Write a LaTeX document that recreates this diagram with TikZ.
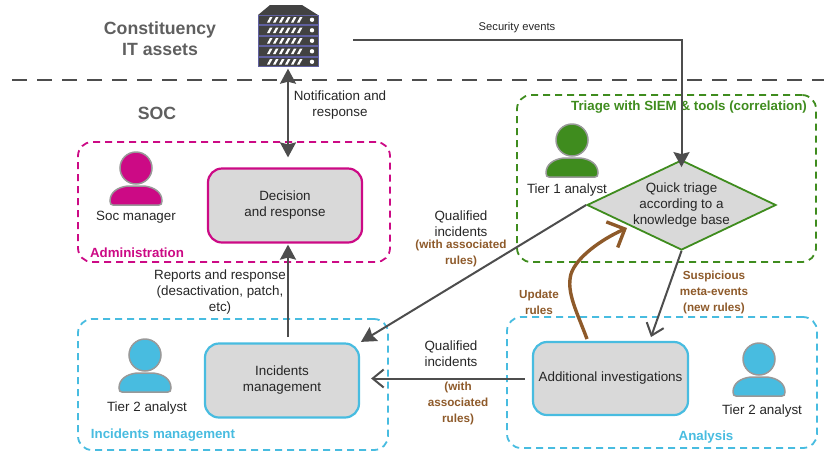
\documentclass[tikz,border=0pt]{standalone}
\usepackage{fontspec}
\setmainfont{Liberation Sans}
\usepackage{xcolor}
\usetikzlibrary{arrows.meta,shapes.geometric}
\definecolor{socpink}{HTML}{CC0A85}
\definecolor{socgreen}{HTML}{3F8C1E}
\definecolor{socblue}{HTML}{48BCE0}
\definecolor{socbrown}{HTML}{8E5A2A}
\definecolor{socgray}{HTML}{4D4D4D}
\definecolor{socfill}{HTML}{D9D9D9}
\tikzstyle{group} = [draw, dashed, dash pattern=on 7pt off 5pt, line width=1.8pt, rounded corners=14pt, inner sep=0pt]
\tikzstyle{task} = [draw, fill=socfill, line width=2.2pt, rounded corners=14pt, inner sep=0pt, align=center, text=black!85]
\tikzstyle{txt} = [align=center, inner sep=0pt, font=\fontsize{13.4}{16}\selectfont, text=black!85]
\tikzstyle{rule} = [align=center, inner sep=0pt, font=\fontsize{11.7}{16}\selectfont\bfseries, text=socbrown]
\tikzstyle{tag} = [inner sep=0pt, font=\fontsize{13.3}{16}\selectfont\bfseries]
\tikzstyle{title} = [align=center, inner sep=0pt, font=\fontsize{17.7}{21}\selectfont\bfseries, text=socgray!90!white]
\tikzstyle{flow} = [draw=socgray, line width=2pt]
\tikzstyle{head} = [-{Stealth[length=15pt,width=16pt,inset=2pt]}]
\tikzstyle{barb} = [-{Straight Barb[length=11pt,width=18pt]}]
\tikzset{pics/person/.style={code={
    \draw[fill=#1, draw=black!40, line width=1.5pt] (0,0) circle (16);
    \draw[fill=#1, draw=black!40, line width=1.5pt] (-26,33) .. controls (-26,24) and (-18,19) .. (-8,18) -- (8,18) .. controls (18,19) and (26,24) .. (26,33) .. controls (26,36) and (25,37) .. (23,37) -- (-23,37) .. controls (-25,37) and (-26,36) .. (-26,33) -- cycle;
}}}
\begin{document}
\begin{tikzpicture}[x=1pt,y=-1pt,>=stealth]
    \useasboundingbox (0,0) rectangle (824,451);
    \node[title] (assets) at (160,39) {Constituency\\IT assets};
    \node[title] (soc) at (157,113) {SOC};
    \draw[socgray, line width=2pt, dash pattern=on 15pt off 10pt] (12,80) -- (824,80);

    \node[group, draw=socpink, minimum width=312, minimum height=120] (admin) at (234,202) {};
    \node[group, draw=socgreen, minimum width=299, minimum height=167] (triagebox) at (666.5,178.5) {};
    \node[group, draw=socblue, minimum width=310, minimum height=131] (incbox) at (233,384.5) {};
    \node[group, draw=socblue, minimum width=310, minimum height=131] (anabox) at (662,382.5) {};

    \node[tag, text=socpink] (admintag) at (137,253) {Administration};
    \node[tag, text=socgreen] (triagetag) at (689,107) {Triage with SIEM \& tools (correlation)};
    \node[tag, text=socblue] (inctag) at (163,435) {Incidents management};
    \node[tag, text=socblue] (anatag) at (706,437) {Analysis};

    \node[task, draw=socpink, minimum width=154, minimum height=74, txt] (decision) at (285,205.5) {Decision\\and response};
    \node[task, draw=socblue, minimum width=154, minimum height=74, txt] (incidents) at (282,380.5) {Incidents\\management};
    \node[task, draw=socblue, minimum width=155, minimum height=73, txt] (additional) at (610.5,378.5) {Additional investigations};
    \node[diamond, draw=socgreen, fill=socfill, line width=1.8pt, inner sep=0pt, minimum width=189, minimum height=90,
        label={[txt]center:Quick triage\\according to a\\knowledge base}] (triage) at (681.5,205) {};

    \pic at (136,168) {person=socpink};
    \pic at (572,140) {person=socgreen};
    \pic at (145,355) {person=socblue};
    \pic at (759,359) {person=socblue};
    \node[txt] (socman) at (136,217) {Soc manager};
    \node[txt] (tierone) at (567,190) {Tier 1 analyst};
    \node[txt] (tiertwoa) at (147,408) {Tier 2 analyst};
    \node[txt] (tiertwob) at (762,411) {Tier 2 analyst};

    \node[minimum width=60, minimum height=61, inner sep=0pt] (server) at (288,36) {};
    \fill[socgray!85!black] (270,5) -- (302,5) -- (318,15) -- (258,15) -- cycle;
    \foreach \y in {15,25.5,36,46.5,57} {
        \draw[fill=socgray!85!black, draw=blue!25!gray, line width=.8pt] (258,\y) rectangle (318,\y+9.5);
        \fill[white] (312,\y+4.75) circle (2.2);
        \foreach \x in {267,273,279,285,291,297}
            \fill[white] (\x,\y+7.5) -- (\x+2.5,\y+7.5) -- (\x+5.5,\y+2) -- (\x+3,\y+2) -- cycle;
    }

    \coordinate (eventsstart) at (353,40);
    \coordinate (reportsstart) at (288,337);
    \coordinate (metaend) at (651,337);
    \coordinate (updatestart) at (587,339);
    \coordinate (updateend) at (627,228);

    \draw[flow, head] (eventsstart) -| ([yshift=-8pt]triage.north);
    \draw[flow, {Stealth[length=15pt,width=16pt,inset=2pt]}-{Stealth[length=15pt,width=16pt,inset=2pt]}, shorten <=2pt, shorten >=10pt] (server.south) -- (server.south |- decision.north);
    \draw[flow, head, shorten >=1pt] (reportsstart) -- (reportsstart |- decision.south);
    \draw[flow, head, shorten >=1pt] (triage.west) -- (incidents.north east);
    \draw[flow, barb] (triage.south) -- (metaend);
    \draw[flow, barb, shorten <=7pt, shorten >=11pt] (additional.west) -- (additional.west -| incidents.east);
    \draw[draw=socbrown, line width=3.4pt, -{Straight Barb[length=14pt,width=28pt]}] (updatestart) .. controls (577,312) and (566,292) .. (571,274) .. controls (576,258) and (600,240) .. (updateend);

    \node[txt, font=\fontsize{11.2}{16}\selectfont] (events) at (517,28) {Security events};
    \node[txt] (notif) at (340,105) {Notification and\\response};
    \node[txt] (reports) at (220,292) {Reports and response\\(desactivation, patch,\\etc)};
    \node[txt] (qualone) at (461,224) {Qualified\\incidents};
    \node[rule] (rulesone) at (461,253) {(with associated\\rules)};
    \node[txt] (qualtwo) at (451,354) {Qualified\\incidents};
    \node[rule] (rulestwo) at (458,403) {(with\\associated\\rules)};
    \node[rule] (update) at (539,302) {Update\\rules};
    \node[rule] (meta) at (714,292) {Suspicious\\meta-events\\(new rules)};
\end{tikzpicture}
\end{document}
